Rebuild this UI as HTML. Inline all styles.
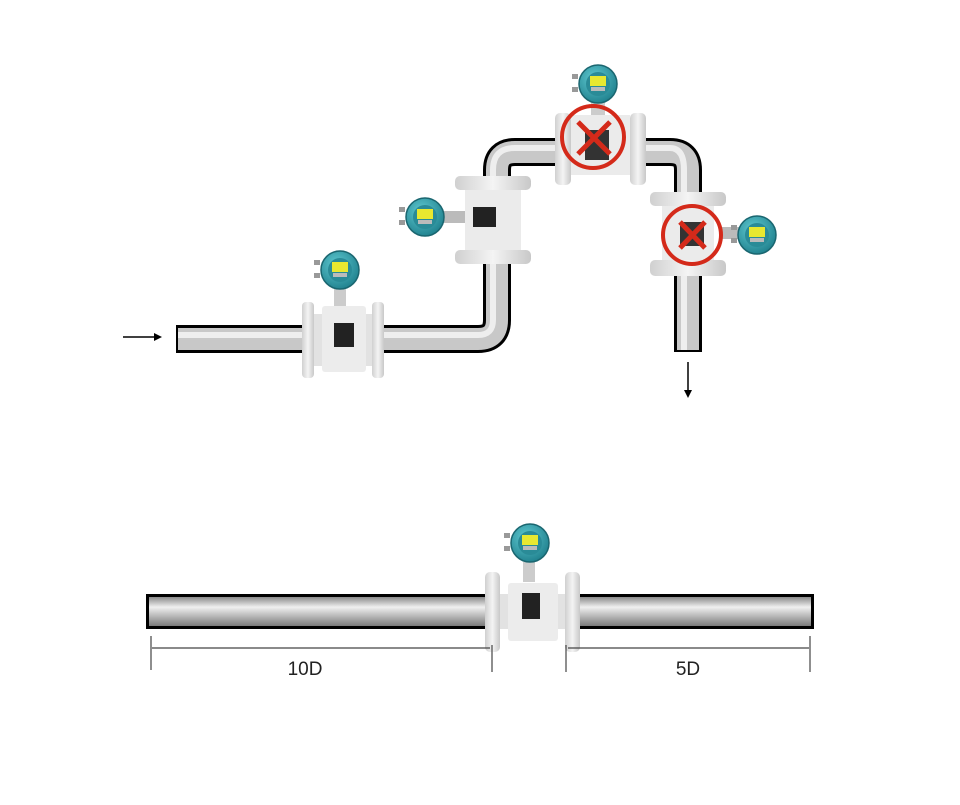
<!DOCTYPE html>
<html><head><style>html,body{margin:0;padding:0;background:#fff}</style></head>
<body>
<svg width="960" height="800" viewBox="0 0 960 800" xmlns="http://www.w3.org/2000/svg">
<defs>
<linearGradient id="ph" x1="0" y1="0" x2="0" y2="1">
<stop offset="0" stop-color="#8a8a8a"/><stop offset="0.35" stop-color="#f0f0f0"/><stop offset="1" stop-color="#7a7a7a"/></linearGradient>
<linearGradient id="pv" x1="0" y1="0" x2="1" y2="0">
<stop offset="0" stop-color="#8a8a8a"/><stop offset="0.35" stop-color="#f0f0f0"/><stop offset="1" stop-color="#7a7a7a"/></linearGradient>
<linearGradient id="fl" x1="0" y1="0" x2="1" y2="0">
<stop offset="0" stop-color="#d0d0d0"/><stop offset="0.5" stop-color="#f4f4f4"/><stop offset="1" stop-color="#c8c8c8"/></linearGradient>
<radialGradient id="hd" cx="0.4" cy="0.35" r="0.7">
<stop offset="0" stop-color="#5ec8d0"/><stop offset="1" stop-color="#1e7f8c"/></radialGradient>
<g id="head">
<rect x="-26" y="-10" width="6" height="5" fill="#999"/><rect x="-26" y="3" width="6" height="5" fill="#999"/>
<circle r="19" fill="url(#hd)" stroke="#1a6670" stroke-width="1.5"/>
<circle r="12" fill="#2a8b97"/>
<rect x="-8" y="-8" width="16" height="10" fill="#e8e830"/>
<rect x="-7" y="3" width="14" height="4" fill="#bbb"/>
</g>
</defs>

<!-- top pipe -->
<path d="M176 339 H478 Q497 339 497 320 V170 Q497 152 515 152 H670 Q688 152 688 170 V352" fill="none" stroke="#000" stroke-width="28"/>
<path d="M178 339 H478 Q497 339 497 320 V170 Q497 152 515 152 H670 Q688 152 688 170 V350" fill="none" stroke="#c8c8c8" stroke-width="22"/>
<path d="M178 335 H478 Q493 335 493 320 V170 Q493 148 515 148 H670 Q684 148 684 170 V350" fill="none" stroke="#eee" stroke-width="6"/>

<!-- arrows -->
<line x1="123" y1="337" x2="158" y2="337" stroke="#000" stroke-width="1.5"/>
<path d="M162 337 L154 333 L154 341 Z" fill="#000"/>
<line x1="688" y1="362" x2="688" y2="392" stroke="#000" stroke-width="1.5"/>
<path d="M688 398 L684 390 L692 390 Z" fill="#000"/>

<!-- meter 1 -->
<rect x="302" y="302" width="12" height="76" rx="4" fill="url(#fl)"/>
<rect x="372" y="302" width="12" height="76" rx="4" fill="url(#fl)"/>
<rect x="314" y="314" width="58" height="52" fill="#e2e2e2"/>
<rect x="322" y="306" width="44" height="66" rx="3" fill="#ececec"/>
<rect x="334" y="323" width="20" height="24" fill="#222"/>
<rect x="334" y="288" width="12" height="18" fill="#ccc"/>
<use href="#head" x="340" y="270"/>

<!-- meter 2 (vertical) -->
<rect x="455" y="176" width="76" height="14" rx="5" fill="url(#fl)"/>
<rect x="455" y="250" width="76" height="14" rx="5" fill="url(#fl)"/>
<rect x="465" y="190" width="56" height="60" fill="#ebebeb"/>
<rect x="473" y="207" width="23" height="20" fill="#222"/>
<rect x="440" y="211" width="25" height="12" fill="#bbb"/>
<use href="#head" x="425" y="217"/>

<!-- meter 3 (top) -->
<rect x="555" y="113" width="16" height="72" rx="5" fill="url(#fl)"/>
<rect x="630" y="113" width="16" height="72" rx="5" fill="url(#fl)"/>
<rect x="571" y="115" width="59" height="60" fill="#ebebeb"/>
<rect x="585" y="130" width="24" height="30" fill="#333"/>
<rect x="591" y="100" width="14" height="15" fill="#ccc"/>
<use href="#head" x="598" y="84"/>
<circle cx="593" cy="137" r="31" fill="none" stroke="#d42a1a" stroke-width="4"/>
<path d="M578 122 L610 154 M610 122 L578 154" stroke="#d42a1a" stroke-width="5"/>

<!-- meter 4 (right) -->
<rect x="650" y="192" width="76" height="14" rx="5" fill="url(#fl)"/>
<rect x="650" y="260" width="76" height="16" rx="5" fill="url(#fl)"/>
<rect x="662" y="206" width="52" height="54" fill="#ebebeb"/>
<rect x="680" y="222" width="24" height="24" fill="#333"/>
<rect x="722" y="227" width="20" height="12" fill="#bbb"/>
<use href="#head" x="757" y="235"/>
<circle cx="692" cy="235" r="29" fill="none" stroke="#d42a1a" stroke-width="4"/>
<path d="M680 222 L705 248 M705 222 L680 248" stroke="#d42a1a" stroke-width="5"/>

<!-- bottom pipe -->
<rect x="146" y="594" width="668" height="35" fill="#000"/>
<rect x="149" y="597" width="662" height="29" fill="url(#ph)"/>

<!-- bottom meter -->
<rect x="485" y="572" width="15" height="80" rx="5" fill="url(#fl)"/>
<rect x="565" y="572" width="15" height="80" rx="5" fill="url(#fl)"/>
<rect x="500" y="594" width="65" height="35" fill="#e2e2e2"/>
<rect x="508" y="583" width="50" height="58" rx="3" fill="#ececec"/>
<rect x="522" y="593" width="18" height="26" fill="#222"/>
<rect x="523" y="562" width="12" height="20" fill="#ccc"/>
<use href="#head" x="530" y="543"/>

<!-- dimension lines -->
<g stroke="#444" stroke-width="1.2">
<line x1="151" y1="636" x2="151" y2="670"/>
<line x1="492" y1="645" x2="492" y2="672"/>
<line x1="566" y1="645" x2="566" y2="672"/>
<line x1="810" y1="636" x2="810" y2="672"/>
<line x1="152" y1="648" x2="490" y2="648"/>
<line x1="568" y1="648" x2="809" y2="648"/>
</g>
<text x="305" y="675" font-family="Liberation Sans, sans-serif" font-size="19" fill="#222" text-anchor="middle">10D</text>
<text x="688" y="675" font-family="Liberation Sans, sans-serif" font-size="19" fill="#222" text-anchor="middle">5D</text>
</svg>
</body></html>
